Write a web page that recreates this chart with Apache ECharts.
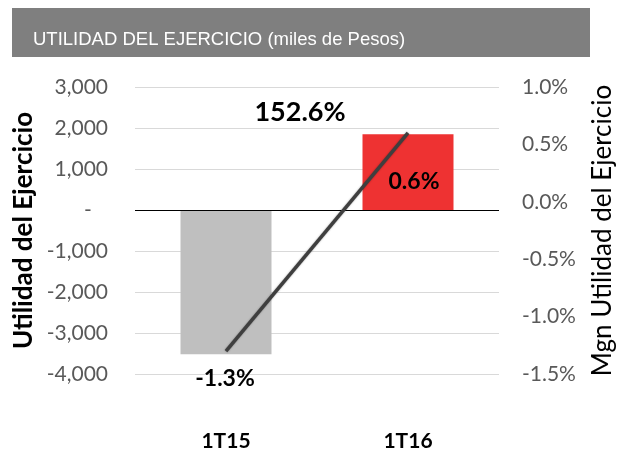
<!DOCTYPE html>
<html>
<head>
<meta charset="utf-8">
<script src="https://cdn.jsdelivr.net/npm/echarts@6/dist/echarts.min.js"></script>
<style>
html,body{margin:0;padding:0;background:#fff;}
#chart{width:617px;height:450px;}
</style>
</head>
<body>
<div id="chart"></div>
<script>
var categories = ['1T15', '1T16'];
var utilidad = [-3520, 1850];
var margen = [-1.3, 0.6];
var variacion = 152.6;
var titleText = 'UTILIDAD DEL EJERCICIO (miles de Pesos)';
var leftAxisName = 'Utilidad del Ejercicio';
var rightAxisName = 'Mgn Utilidad del Ejercicio';

var barColors = ['#BFBFBF', '#EE3232'];
var chart = echarts.init(document.getElementById('chart'), null, {renderer: 'canvas'});
var font = 'Lato';
var option = {
  animation: false,
  backgroundColor: '#ffffff',
  grid: {left: 135, right: 118, top: 87, bottom: 76, containLabel: false, outerBoundsMode: 'none'},
  graphic: [
    {type: 'rect', left: 12, top: 8, shape: {width: 578, height: 49}, style: {fill: '#7F7F7F'}},
    {type: 'text', left: 33, top: 30, style: {text: titleText, fill: '#ffffff', font: '18.5px "Liberation Sans", Arial, sans-serif'}},
    {type: 'text', x: 300, y: 112, style: {text: variacion.toFixed(1) + '%', fill: '#000', font: 'bold 27px ' + font, align: 'center', verticalAlign: 'middle'}}
  ],
  xAxis: {
    type: 'category',
    data: categories,
    axisLine: {show: false},
    axisTick: {show: false},
    axisLabel: {margin: 57, color: '#000', fontFamily: font, fontWeight: 'bold', fontSize: 21}
  },
  yAxis: [
    {
      type: 'value', min: -4000, max: 3000, interval: 1000,
      name: leftAxisName, nameLocation: 'middle', nameRotate: 90, nameGap: 98, nameMoveOverlap: false,
      nameTextStyle: {color: '#000', fontFamily: font, fontWeight: 'bold', fontSize: 26},
      axisLine: {show: false}, axisTick: {show: false},
      splitLine: {lineStyle: {color: '#D9D9D9', width: 1}},
      axisLabel: {
        margin: 27, color: '#595959', fontFamily: font, fontSize: 21,
        formatter: function (v) { return v === 0 ? '-   ' : v.toLocaleString('en-US'); }
      }
    },
    {
      type: 'value', min: -1.5, max: 1.0, interval: 0.5, position: 'right',
      name: rightAxisName, nameLocation: 'middle', nameRotate: 90, nameGap: 91, nameMoveOverlap: false,
      nameTextStyle: {color: '#000', fontFamily: font, fontSize: 26},
      axisLine: {show: false}, axisTick: {show: false},
      splitLine: {show: false},
      axisLabel: {
        margin: 23, color: '#595959', fontFamily: font, fontSize: 21,
        formatter: function (v) { return v.toFixed(1) + '%'; }
      }
    }
  ],
  series: [
    {
      type: 'bar',
      yAxisIndex: 0,
      barWidth: '50%',
      data: utilidad,
      itemStyle: {color: function (p) { return barColors[p.dataIndex]; }},
      markLine: {
        silent: true, symbol: 'none', label: {show: false},
        lineStyle: {color: '#000', width: 1, type: 'solid'},
        data: [{yAxis: 0}]
      }
    },
    {
      type: 'line',
      yAxisIndex: 1,
      data: margen,
      symbol: 'circle',
      symbolSize: 0,
      showSymbol: true,
      z: 5,
      lineStyle: {color: '#3F3F3F', width: 3.5, shadowColor: 'rgba(0,0,0,0.35)', shadowBlur: 2},
      label: {
        show: true, position: 'inside', color: '#000', fontFamily: font, fontWeight: 'bold', fontSize: 23,
        formatter: function (p) { return p.value.toFixed(1) + '%'; }
      },
      labelLayout: function (p) {
        return p.dataIndex === 0 ? {dx: -1, dy: 28} : {dx: 6, dy: 49};
      }
    }
  ]
};
chart.setOption(option);
</script>
</body>
</html>
